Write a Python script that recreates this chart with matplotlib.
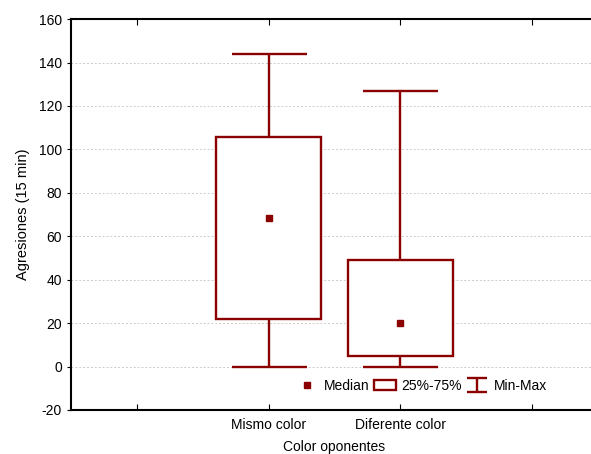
import numpy as np
import matplotlib
matplotlib.use('Agg')
import matplotlib.pyplot as plt
from matplotlib.patches import Patch
from matplotlib.lines import Line2D

plt.rcParams['font.family'] = ['Liberation Sans', 'DejaVu Sans']
plt.rcParams['axes.unicode_minus'] = False

categories = ['Mismo color', 'Diferente color']
medians = [68.5, 20]
q1 = [22, 5]
q3 = [105.5, 49]
mins = [0, 0]
maxs = [144, 127]

red = '#8b0000'
pos = np.array([2, 3])

fig = plt.figure(figsize=(5.91, 4.54), dpi=100)
ax = fig.add_axes([0.120, 0.097, 0.892, 0.861])

ax.set_xlim(0.5, 4.5)
ax.set_ylim(-20, 160)
ax.set_yticks(np.arange(-20, 161, 20))
ax.yaxis.grid(True, linestyle=(0, (2, 2)), color='#cccccc', linewidth=0.7)
ax.set_axisbelow(True)

# whiskers min-max (box covers the middle part)
med = np.array(medians)
ax.errorbar(pos, med, yerr=[med - np.array(mins), np.array(maxs) - med],
            fmt='none', ecolor=red, elinewidth=1.7, capsize=27, capthick=1.7, zorder=2)
ax.bar(pos, np.array(q3) - np.array(q1), bottom=q1, width=0.8,
       facecolor='white', edgecolor=red, linewidth=1.7, zorder=3)
ax.plot(pos, medians, 's', color=red, markersize=4.5, mec=red, zorder=4)

ax.set_xticks([1, 2, 3, 4])
ax.set_xticklabels(['', categories[0], categories[1], ''])
ax.tick_params(axis='x', direction='in', top=True, length=4, labelsize=10, pad=6)
ax.tick_params(axis='y', direction='out', length=3, labelsize=10)
for s in ['left', 'top', 'bottom']:
    ax.spines[s].set_linewidth(1.5)
ax.spines['right'].set_visible(False)

ax.set_xlabel('Color oponentes', fontsize=10, labelpad=5.5)
ax.set_ylabel('Agresiones (15 min)', fontsize=10.5, labelpad=6)

h_med = Line2D([], [], marker='s', linestyle='none', color=red, markersize=4.5)
h_box = Patch(facecolor='white', edgecolor=red, linewidth=1.7)
h_mm = ax.errorbar([np.nan], [np.nan], yerr=[1], fmt='none', ecolor=red,
                   elinewidth=1.7, capsize=7, capthick=1.7)
leg = ax.legend([h_med, h_box, h_mm], ['Median', '25%-75%', 'Min-Max'],
                loc='center', bbox_to_anchor=(0.665, 0.062), ncol=3, frameon=False,
                fontsize=10, handlelength=1.6, handletextpad=0.4, columnspacing=0.3)
leg.set_zorder(10)

fig.savefig('out.png', dpi=100)
